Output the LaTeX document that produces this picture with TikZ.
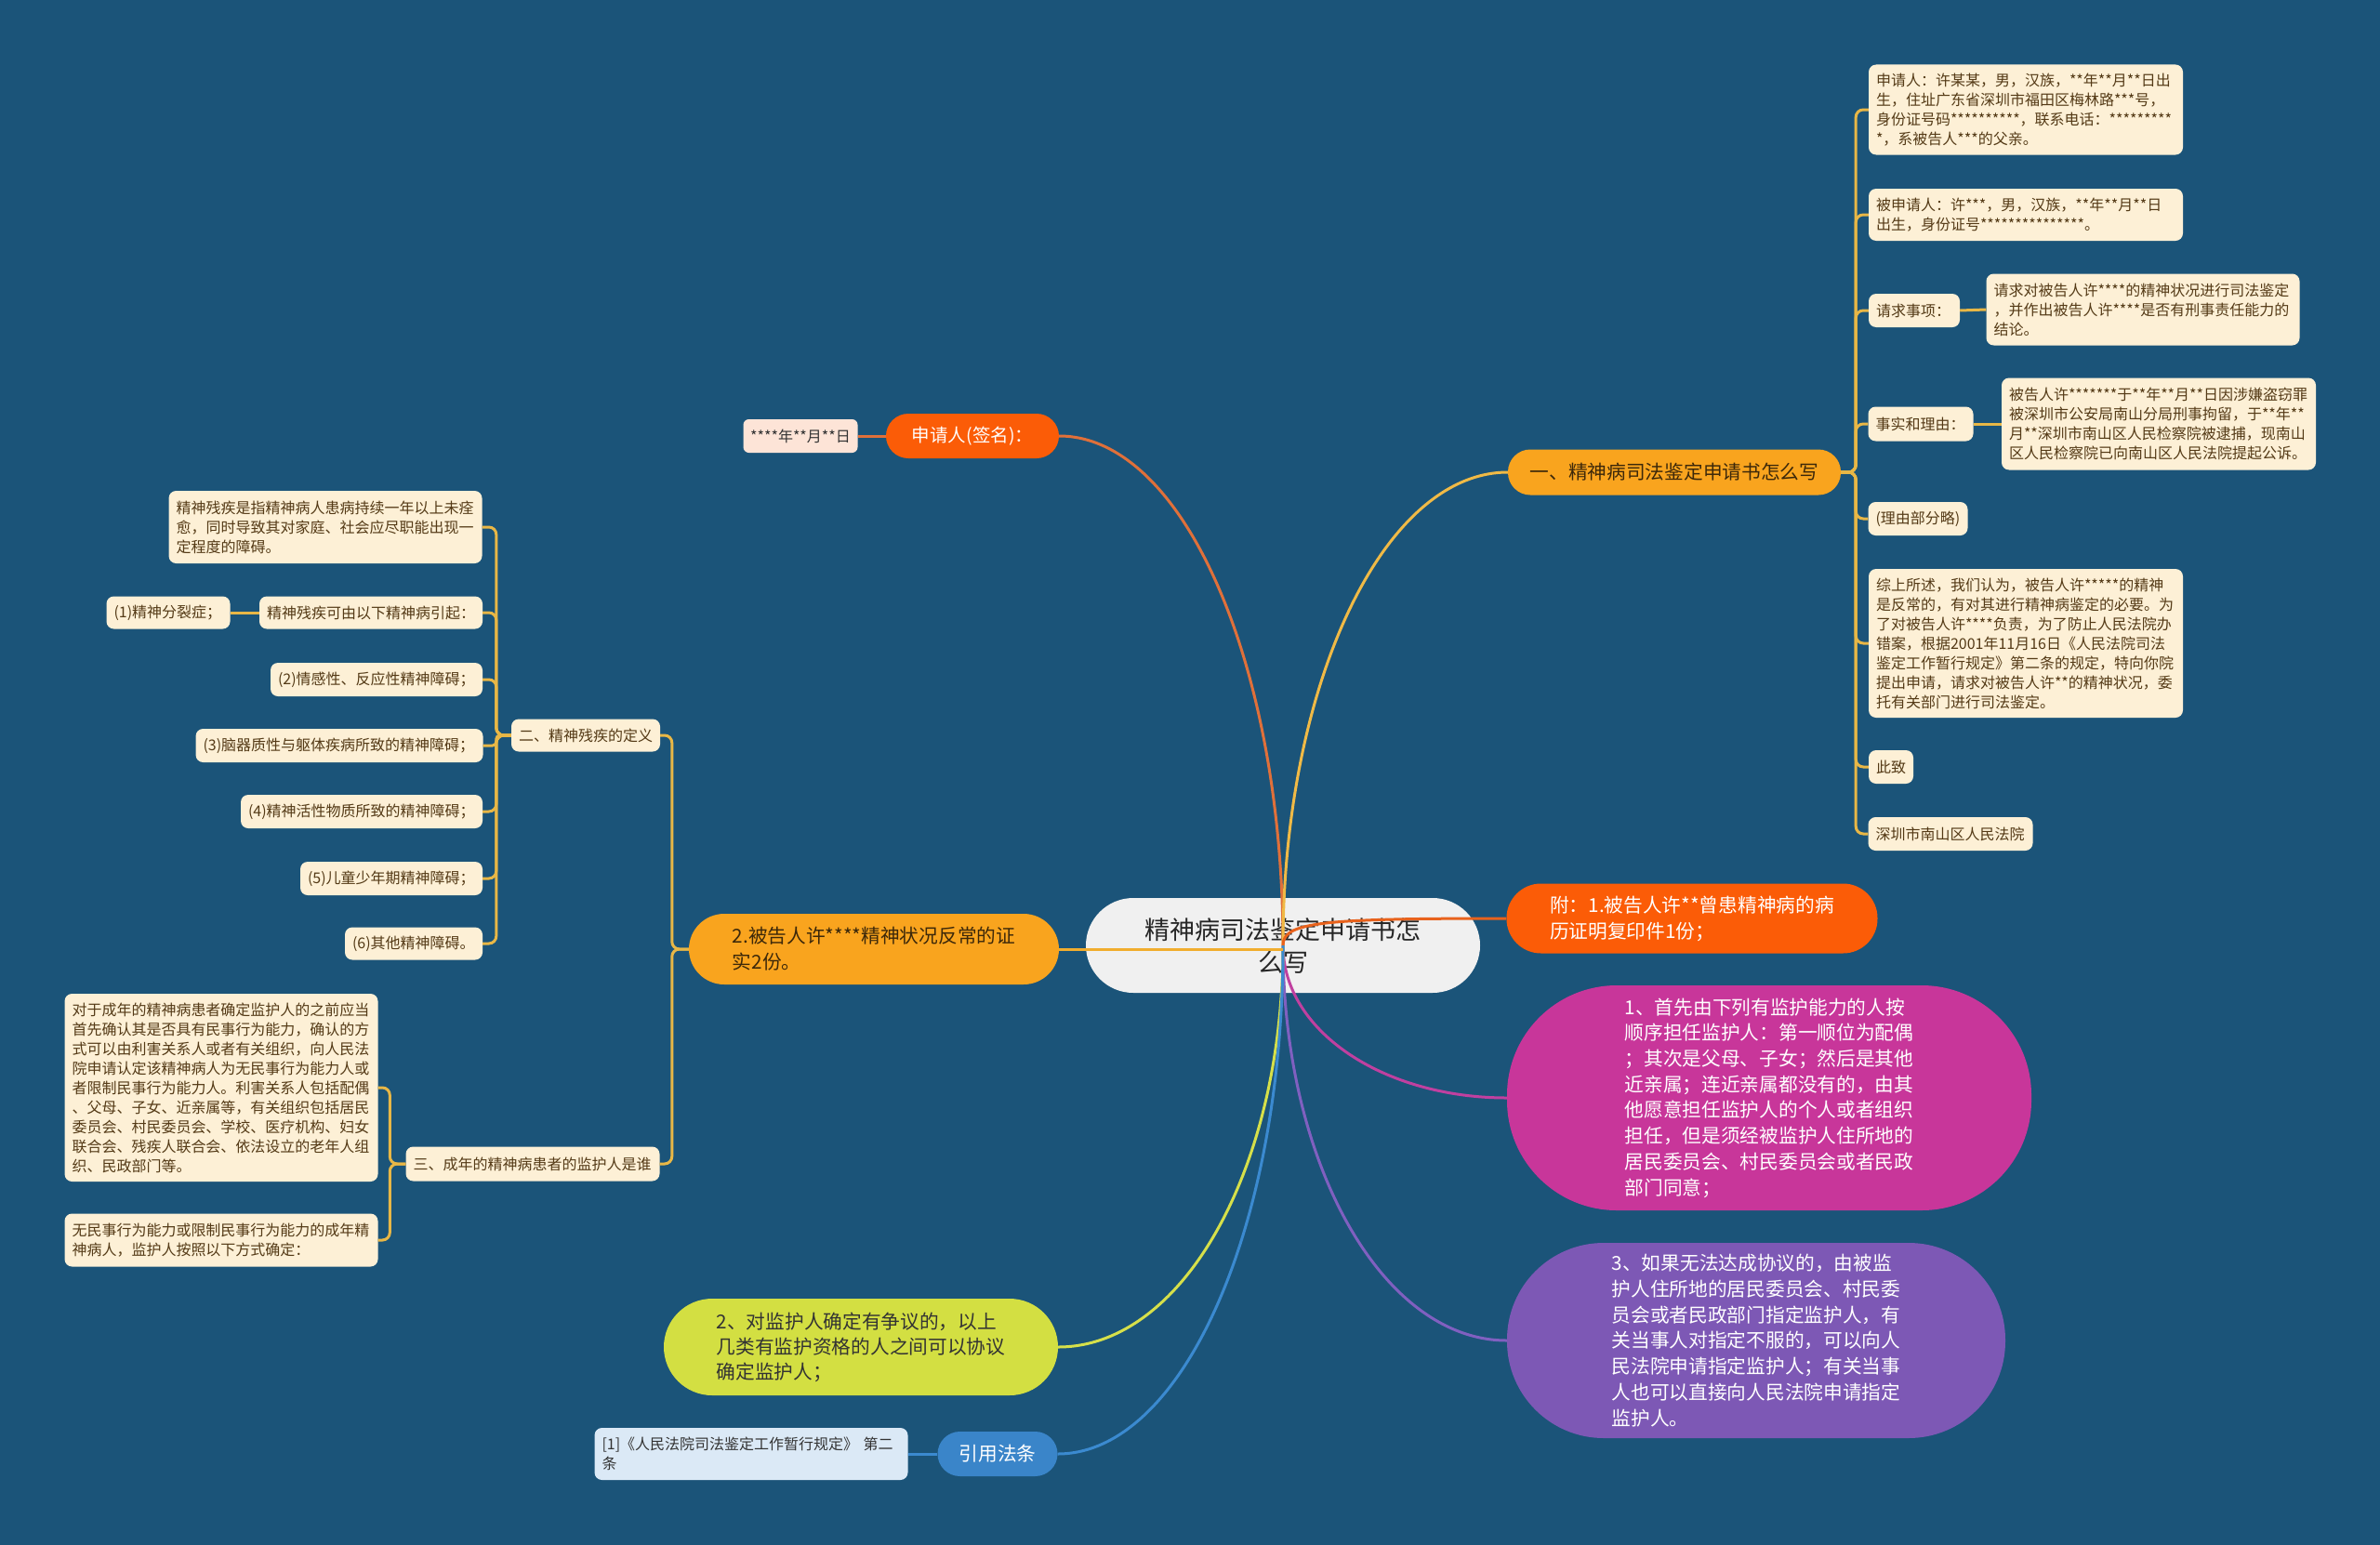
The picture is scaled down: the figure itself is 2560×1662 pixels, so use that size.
\documentclass[tikz,border=0pt]{standalone}
\usepackage{fontspec}
\setmainfont{Noto Sans CJK SC}
\definecolor{bg}{RGB}{27,84,121}
\definecolor{cream}{RGB}{253,240,214}
\definecolor{ink}{RGB}{84,58,22}
\definecolor{peach}{RGB}{253,228,215}
\definecolor{redorange}{RGB}{251,92,7}
\definecolor{amber}{RGB}{249,164,30}
\definecolor{magentab}{RGB}{200,54,154}
\definecolor{violetb}{RGB}{125,88,181}
\definecolor{limeb}{RGB}{211,223,66}
\definecolor{skyb}{RGB}{58,133,201}
\definecolor{paleblue}{RGB}{219,233,246}
\definecolor{rootfill}{RGB}{240,240,240}
\definecolor{gold}{RGB}{232,183,70}
\definecolor{darkt}{RGB}{60,40,10}
\newcommand\fs[2]{\fontsize{#1}{#2}\selectfont}
\tikzset{
  leaf/.style={fill=cream, text=ink, rounded corners=8pt, font=\fs{16}{21},
    inner xsep=8pt, inner ysep=3pt, align=left},
  pill/.style={rectangle, rounded corners=#1, inner xsep=14pt, font=\fs{20.7}{28}, align=left},
  twig/.style={draw=gold, line width=3pt, rounded corners=8pt},
  limb/.style={line width=3pt},
}

\begin{document}
\begin{tikzpicture}[x=1pt,y=-1pt]
\fill[bg] (0,0) rectangle (2560,1662);

% centre
\node[pill=51pt, fill=rootfill, text=black!85, font=\fs{27}{35}, align=center,
  minimum width=424pt, minimum height=102pt] (root) at (1380,1017)
  {精神病司法鉴定申请书怎\\么写};

% main branches
\node[pill=24pt, fill=redorange, text=white, font=\fs{19.5}{26}, minimum width=186pt,
  minimum height=48pt] (sign) at (1046,469) {申请人(签名)：};
\node[fill=peach, text=black!80, rounded corners=6pt, font=\fs{16}{21},
  minimum width=123pt, minimum height=36pt] (date) at (861,469) {****年**月**日};
\node[pill=24pt, fill=amber, text=darkt, minimum width=358pt, minimum height=49pt]
  (one) at (1801,508) {一、精神病司法鉴定申请书怎么写};
\node[pill=37pt, fill=redorange, text=white, minimum width=399pt, minimum height=75pt]
  (attach) at (1820,988) {附：1.被告人许**曾患精神病的病\\历证明复印件1份；};
\node[pill=118pt, fill=magentab, text=white, font=\fs{20.7}{27.7}, minimum width=564pt,
  minimum height=242pt] (first) at (1903,1181)
  {1、首先由下列有监护能力的人按\\顺序担任监护人：第一顺位为配偶\\；其次是父母、子女；然后是其他\\近亲属；连近亲属都没有的，由其\\他愿意担任监护人的个人或者组织\\担任，但是须经被监护人住所地的\\居民委员会、村民委员会或者民政\\部门同意；};
\node[pill=104pt, fill=violetb, text=white, font=\fs{20.7}{27.7}, minimum width=536pt,
  minimum height=210pt] (third) at (1889,1442)
  {3、如果无法达成协议的，由被监\\护人住所地的居民委员会、村民委\\员会或者民政部门指定监护人，有\\关当事人对指定不服的，可以向人\\民法院申请指定监护人；有关当事\\人也可以直接向人民法院申请指定\\监护人。};
\node[pill=38pt, fill=amber, text=darkt, minimum width=398pt, minimum height=76pt]
  (proof) at (940,1021) {2.被告人许****精神状况反常的证\\实2份。};
\node[pill=52pt, fill=limeb, text=black!80, font=\fs{20.7}{27}, minimum width=424pt,
  minimum height=104pt] (second) at (926,1449)
  {2、对监护人确定有争议的，以上\\几类有监护资格的人之间可以协议\\确定监护人；};
\node[pill=24pt, fill=skyb, text=white, minimum width=129pt, minimum height=48pt]
  (law) at (1073,1564) {引用法条};
\node[leaf, fill=paleblue, text=black!80, text width=321pt, minimum height=56pt]
  (cite) at (808,1564) {[1]《人民法院司法鉴定工作暂行规定》 第二\\条};

% right leaves
\node[leaf, text width=322pt, minimum height=97pt] (r1) at (2179,118)
  {申请人：许某某，男，汉族，**年**月**日出\\生，住址广东省深圳市福田区梅林路***号，\\身份证号码**********，联系电话：*********\\{}*，系被告人***的父亲。};
\node[leaf, text width=322pt, minimum height=56pt] (r2) at (2179,231)
  {被申请人：许***，男，汉族，**年**月**日\\出生，身份证号***************。};
\node[leaf, text width=82pt, minimum height=36pt] (r3) at (2059,334) {请求事项：};
\node[leaf, text width=321pt, minimum height=77pt] (r3c) at (2305,333)
  {请求对被告人许****的精神状况进行司法鉴定\\，并作出被告人许****是否有刑事责任能力的\\结论。};
\node[leaf, text width=97pt, minimum height=37pt] (r4) at (2066,456) {事实和理由：};
\node[leaf, text width=322pt, minimum height=99pt] (r4c) at (2322,456)
  {被告人许*******于**年**月**日因涉嫌盗窃罪\\被深圳市公安局南山分局刑事拘留，于**年**\\月**深圳市南山区人民检察院被逮捕，现南山\\区人民检察院已向南山区人民法院提起公诉。};
\node[leaf, text width=91pt, minimum height=36pt] (r5) at (2063,558) {(理由部分略)};
\node[leaf, text width=322pt, minimum height=160pt] (r6) at (2179,692)
  {综上所述，我们认为，被告人许*****的精神\\是反常的，有对其进行精神病鉴定的必要。为\\了对被告人许****负责，为了防止人民法院办\\错案，根据2001年11月16日《人民法院司法\\鉴定工作暂行规定》第二条的规定，特向你院\\提出申请，请求对被告人许**的精神状况，委\\托有关部门进行司法鉴定。};
\node[leaf, text width=32pt, minimum height=36pt] (r7) at (2034,825) {此致};
\node[leaf, text width=161pt, minimum height=36pt] (r8) at (2098,897) {深圳市南山区人民法院};

% left leaves
\node[leaf, text width=144pt, minimum height=35pt] (def) at (630,791) {二、精神残疾的定义};
\node[leaf, text width=321pt, minimum height=78pt] (l0) at (350,567)
  {精神残疾是指精神病人患病持续一年以上未痊\\愈，同时导致其对家庭、社会应尽职能出现一\\定程度的障碍。};
\node[leaf, text width=224pt, minimum height=35pt] (l1) at (399,659) {精神残疾可由以下精神病引起：};
\node[leaf, text width=117pt, minimum height=35pt] (l1c) at (181,659) {(1)精神分裂症；};
\node[leaf, text width=212pt, minimum height=36pt] (l2) at (405,731) {(2)情感性、反应性精神障碍；};
\node[leaf, text width=293pt, minimum height=36pt] (l3) at (365,802) {(3)脑器质性与躯体疾病所致的精神障碍；};
\node[leaf, text width=244pt, minimum height=36pt] (l4) at (389,873) {(4)精神活性物质所致的精神障碍；};
\node[leaf, text width=180pt, minimum height=36pt] (l5) at (421,945) {(5)儿童少年期精神障碍；};
\node[leaf, text width=132pt, minimum height=35pt] (l6) at (445,1015) {(6)其他精神障碍。};
\node[leaf, text width=257pt, minimum height=37pt] (guard) at (573,1252) {三、成年的精神病患者的监护人是谁};
\node[leaf, text width=321pt, minimum height=202pt] (l7) at (238,1170)
  {对于成年的精神病患者确定监护人的之前应当\\首先确认其是否具有民事行为能力，确认的方\\式可以由利害关系人或者有关组织，向人民法\\院申请认定该精神病人为无民事行为能力人或\\者限制民事行为能力人。利害关系人包括配偶\\、父母、子女、近亲属等，有关组织包括居民\\委员会、村民委员会、学校、医疗机构、妇女\\联合会、残疾人联合会、依法设立的老年人组\\织、民政部门等。};
\node[leaf, text width=321pt, minimum height=57pt] (l8) at (238,1334)
  {无民事行为能力或限制民事行为能力的成年精\\神病人，监护人按照以下方式确定：};

% connectors from the centre
\draw[limb, draw={rgb,255:red,224;green,112;blue,58}] (root.center) .. controls +(0,-301) and +(134,0) .. (sign.east);
\draw[limb, draw={rgb,255:red,240;green,186;blue,70}] (root.center) .. controls +(0,-280) and +(-134,0) .. (one.west);
\draw[limb, draw={rgb,255:red,232;green,98;blue,28}] (root.center) .. controls +(0,-25) and +(-200,0) .. (attach.west);
\draw[limb, draw={rgb,255:red,192;green,64;blue,160}] (root.center) .. controls +(0,92) and +(-133,0) .. (first.west);
\draw[limb, draw={rgb,255:red,128;green,96;blue,192}] (root.center) .. controls +(0,236) and +(-133,0) .. (third.west);
\draw[limb, draw={rgb,255:red,214;green,224;blue,74}] (root.center) .. controls +(0,240) and +(134,0) .. (second.east);
\draw[limb, draw={rgb,255:red,59;green,138;blue,208}] (root.center) .. controls +(0,303) and +(134,0) .. (law.east);
\draw[limb, draw={rgb,255:red,241;green,173;blue,46}] (proof.east -| root.center) -- (proof.east);

% short links
\draw[limb, draw={rgb,255:red,224;green,112;blue,58}] (sign.west) -- (date.east);
\draw[limb, draw={rgb,255:red,59;green,138;blue,208}] (law.west) -- (cite.east);
\draw[twig] (r3.east) -- (r3c.west);
\draw[twig] (r4.east) -- (r4c.west);
\draw[twig] (l1.west) -- (l1c.east);

% right trunk
\foreach \n in {r1,r2,r3,r4,r5,r6,r7,r8}
  \draw[twig] (one.east) -- ++(16,0) |- (\n.west);

% left trunks
\foreach \n in {def,guard}
  \draw[twig] (proof.west) -- ++(-18,0) |- (\n.east);
\foreach \n in {l0,l1,l2,l4,l5,l6}
  \draw[twig] (def.west) -- ++(-16,0) |- (\n.east);
\draw[twig, rounded corners=4pt] (def.west) -- ++(-16,0) |- (l3.east);
\foreach \n in {l7,l8}
  \draw[twig] (guard.west) -- ++(-17,0) |- (\n.east);
\end{tikzpicture}
\end{document}
